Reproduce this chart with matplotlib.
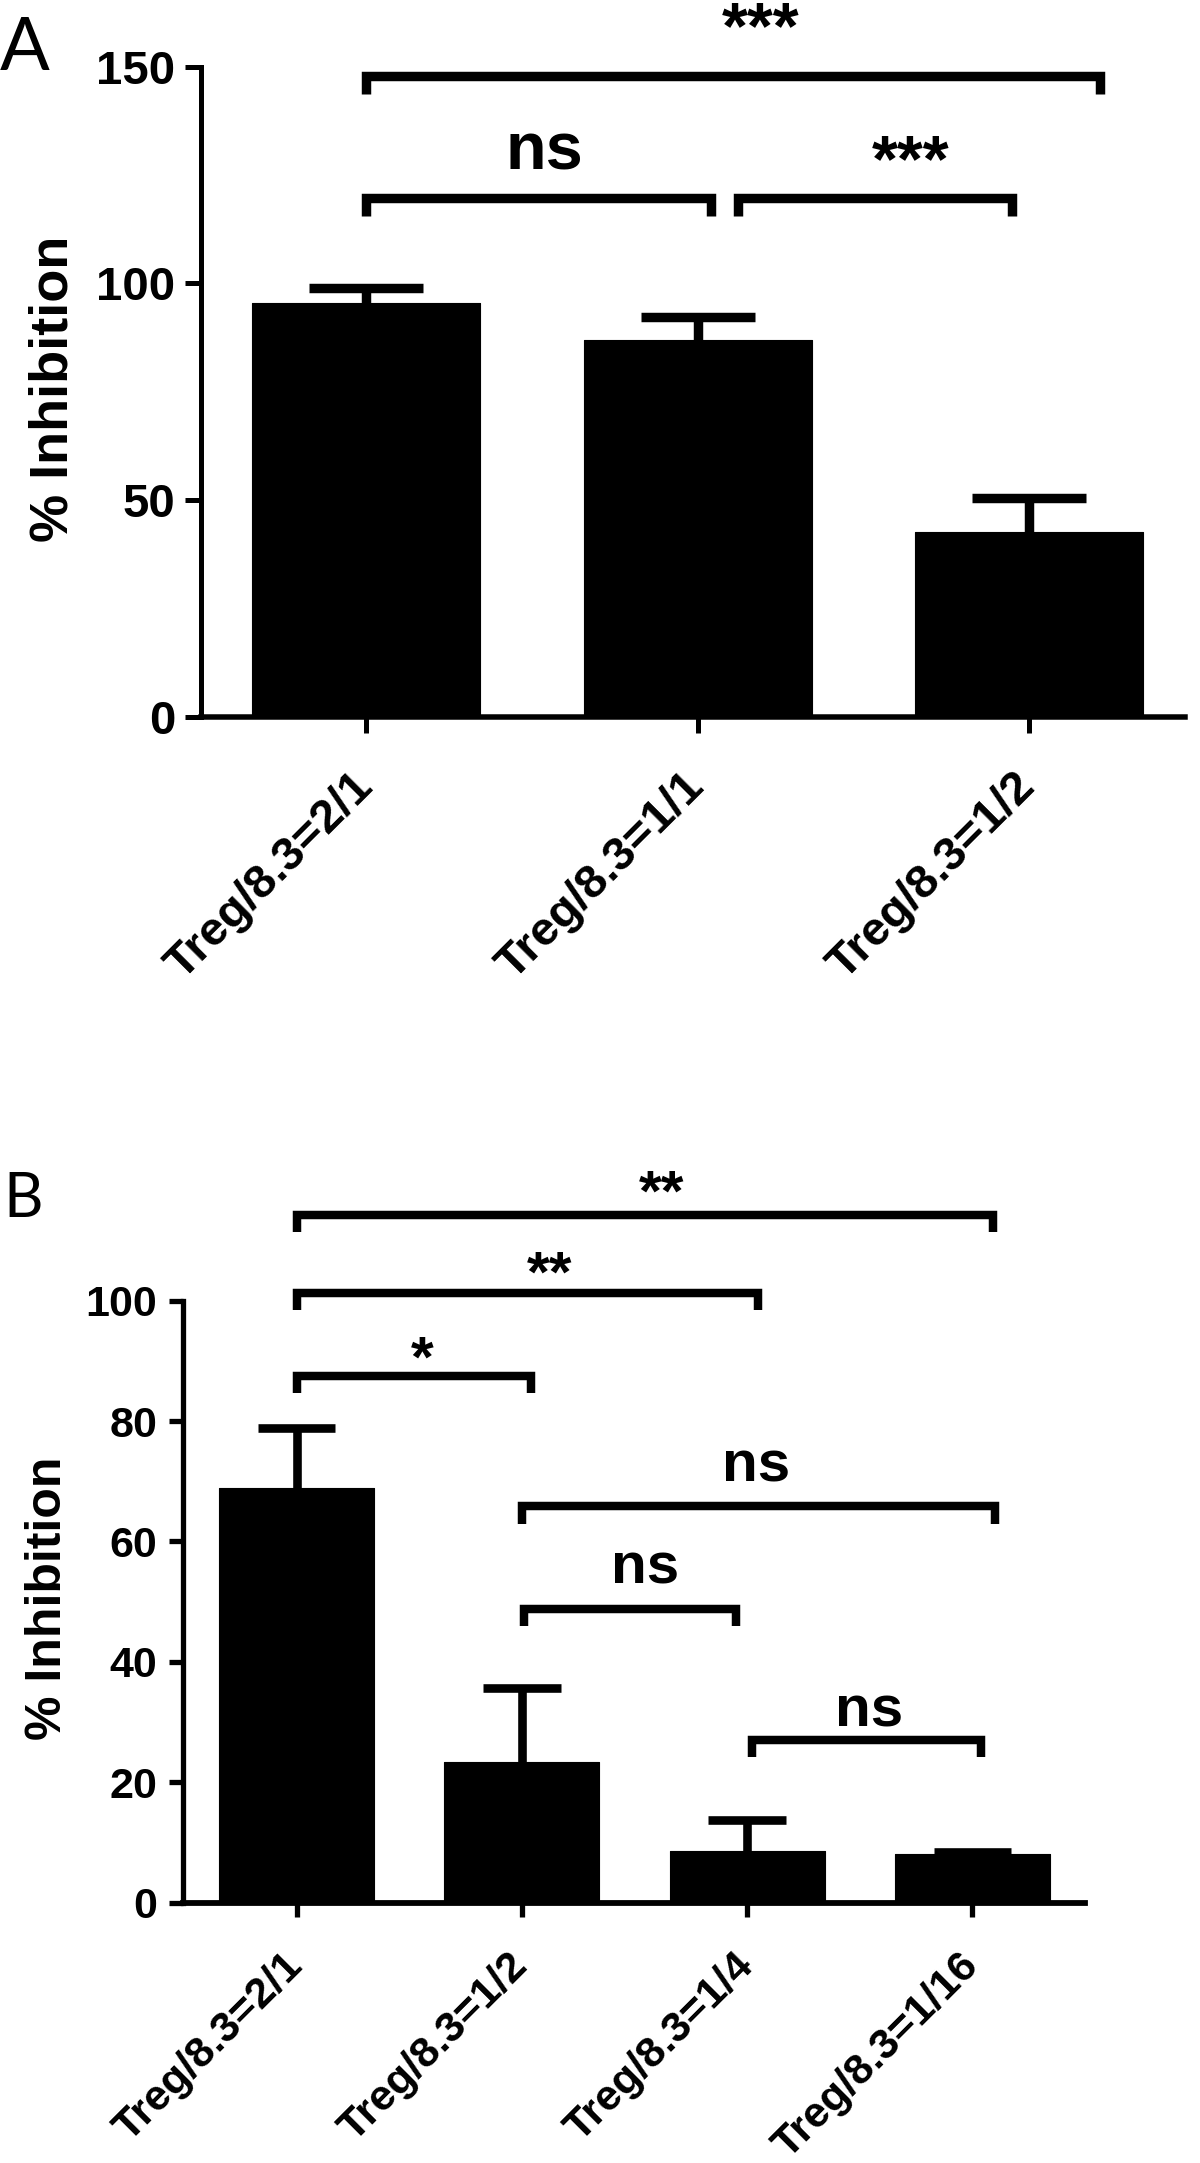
import matplotlib
matplotlib.use('Agg')
import matplotlib.pyplot as plt
import numpy as np

plt.rcParams['font.family'] = ['Liberation Sans', 'DejaVu Sans']
plt.rcParams['font.weight'] = 'bold'

# ---------------- data ----------------
# Panel A
a_labels = ['Treg/8.3=2/1', 'Treg/8.3=1/1', 'Treg/8.3=1/2']
a_mean = [95.4, 86.9, 42.6]
a_sem = [3.6, 5.3, 7.9]
a_yticks = [0, 50, 100, 150]

# Panel B
b_labels = ['Treg/8.3=2/1', 'Treg/8.3=1/2', 'Treg/8.3=1/4', 'Treg/8.3=1/16']
b_mean = [68.8, 23.4, 8.5, 8.1]
b_sem = [10.1, 12.3, 5.2, 0.3]
b_yticks = [0, 20, 40, 60, 80, 100]

# significance brackets: (x start, x end, bracket level, leg drop, label, label x, label baseline)
a_sig = [
    (0.0, 2.216, 147.9, 4.2, '***', 1.189, 154.3),
    (0.0, 1.039, 119.8, 4.2, 'ns', 0.537, 126.3),
    (1.121, 1.948, 119.8, 4.2, '***', 1.642, 123.7),
]
b_sig = [
    (0.0, 3.09, 114.2, 2.8, '**', 1.62, 115.0),
    (0.0, 2.05, 101.2, 2.8, '**', 1.125, 101.5),
    (0.0, 1.04, 87.5, 2.8, '*', 0.559, 87.4),
    (1.0, 3.10, 65.9, 3.0, 'ns', 2.04, 70.0),
    (1.01, 1.95, 48.7, 2.8, 'ns', 1.547, 53.0),
    (2.02, 3.04, 27.0, 2.8, 'ns', 2.54, 29.2),
]

W, H = 1200, 2163
fig = plt.figure(figsize=(W / 100, H / 100), dpi=100)


def draw_panel(rect, labels, mean, sem, yticks, xlim, sig, st):
    ax = fig.add_axes(rect)
    x = np.arange(len(labels))
    mean = np.asarray(mean)
    top = mean + np.asarray(sem)
    ax.bar(x, mean, width=0.688, color='black', edgecolor='black',
           linewidth=0.8, joinstyle='round', zorder=2)
    ax.vlines(x, mean, top, color='black', lw=st['elw'], zorder=1)
    ax.hlines(top, x - 0.172, x + 0.172, color='black', lw=st['elw'], zorder=3)

    ax.set_xlim(*xlim)
    ax.set_ylim(yticks[0], yticks[-1])
    ax.set_yticks(yticks)
    ax.set_yticklabels([str(v) for v in yticks], fontsize=st['tick_fs'])
    ax.set_xticks(x)
    ax.set_xticklabels(labels, rotation=45, ha='right', va='center',
                       rotation_mode='anchor', fontsize=st['tick_fs'])
    for s in ('top', 'right'):
        ax.spines[s].set_visible(False)
    ax.spines['left'].set_linewidth(st['spine_lw'])
    ax.spines['bottom'].set_linewidth(st['spine_lw'] * 1.1)
    ax.tick_params(axis='y', length=st['ticklen'], width=st['spine_lw'],
                   pad=st['ypad'])
    ax.tick_params(axis='x', length=st['ticklen'], width=st['spine_lw'],
                   pad=st['xpad'])
    ax.set_facecolor('none')

    for (x1, x2, y, drop, txt, tx, ty) in sig:
        ax.plot([x1, x1, x2, x2], [y - drop, y, y, y - drop], color='black',
                lw=st['blw'], solid_joinstyle='miter', solid_capstyle='butt',
                clip_on=False, zorder=4)
        ax.text(tx, ty, txt, ha='center', va='baseline',
                fontsize=st['sig_fs'], fontweight='bold', clip_on=False)
    return ax


a_rect = [201 / W, 1 - 717 / H, (1184.6 - 201) / W, (717 - 66.6) / H]
b_rect = [182.7 / W, 1 - 1902.5 / H, (1085 - 182.7) / W, (1902.5 - 1300.7) / H]

a_style = dict(elw=6.8, blw=6.8, spine_lw=3.6, ticklen=11.5, ypad=7,
               xpad=34, tick_fs=34, sig_fs=48)
b_style = dict(elw=6.2, blw=6.1, spine_lw=3.8, ticklen=10, ypad=8.4,
               xpad=31, tick_fs=31, sig_fs=42)

axA = draw_panel(a_rect, a_labels, a_mean, a_sem, a_yticks, (-0.499, 2.47),
                 a_sig, a_style)
axB = draw_panel(b_rect, b_labels, b_mean, b_sem, b_yticks, (-0.506, 3.50),
                 b_sig, b_style)

# y-axis titles
fig.text(68 / W, 1 - 388.5 / H, '% Inhibition', rotation=90,
         rotation_mode='anchor', ha='center', va='baseline', fontsize=39,
         fontweight='bold')
fig.text(61.5 / W, 1 - 1598 / H, '% Inhibition', rotation=90,
         rotation_mode='anchor', ha='center', va='baseline', fontsize=36,
         fontweight='bold')

# panel letters
fig.text(0 / W, 1 - 70 / H, 'A', ha='left', va='baseline', fontsize=53,
         fontweight='normal', family=['Lato', 'Open Sans', 'DejaVu Sans'])
fig.text(3 / W, 1 - 1216.7 / H, 'B', ha='left', va='baseline', fontsize=44,
         fontweight='normal', family=['Lato', 'Open Sans', 'DejaVu Sans'])

fig.savefig('out.png', dpi=100, facecolor='white')
